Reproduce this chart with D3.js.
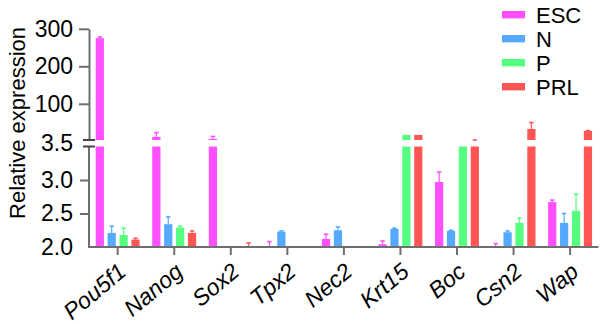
<!DOCTYPE html>
<html>
<head>
<meta charset="utf-8">
<script src="https://cdn.jsdelivr.net/npm/d3@7"></script>
<style>
  html, body { margin: 0; padding: 0; background: #fff; }
  svg { display: block; }
  text { font-family: "Liberation Sans", Arial, Helvetica, sans-serif; fill: #000; }
</style>
</head>
<body>
<svg id="chart" width="600" height="324"></svg>
<script>
// Genes on the x axis and the four sample groups
const categories = ["Pou5f1", "Nanog", "Sox2", "Tpx2", "Nec2", "Krt15", "Boc", "Csn2", "Wap"];
const seriesNames = ["ESC", "N", "P", "PRL"];

// Mean relative expression per gene (0 = not detected) and upper error (SD)
const escValues  = [275, 12, 6.5, 2.01, 2.12, 2.04, 2.97, 2.01, 2.67];
const escErrors  = [3, 11, 6.5, 0.07, 0.07, 0.05, 0.15, 0.04, 0.03];
const nValues    = [2.21, 2.34, 0, 2.23, 2.25, 2.27, 2.24, 2.22, 2.36];
const nErrors    = [0.10, 0.11, 0, 0.01, 0.05, 0.01, 0.01, 0.02, 0.14];
const pValues    = [2.18, 2.29, 0, 0, 0, 17, 3.5, 2.36, 2.54];
const pErrors    = [0.10, 0.02, 0, 0, 0, 0, 0, 0.07, 0.25];
const prlValues  = [2.11, 2.21, 2.01, 0, 0, 17, 3.55, 33, 27.5];
const prlErrors  = [0.02, 0.03, 0.05, 0, 0, 0, 0.1, 17, 1];

// Axis tick values for the two segments of the broken y axis
const lowerTicks = [2.0, 2.5, 3.0];
const breakValue = 3.5;
const upperTicks = [100, 200, 300];

const colors = ["#ff4fff", "#55aaff", "#55ff80", "#ff5555"];

const valueSets = [escValues, nValues, pValues, prlValues];
const errorSets = [escErrors, nErrors, pErrors, prlErrors];

const svg = d3.select("#chart");

// Scales: banded genes, banded groups inside each gene, two linear y segments
const x0 = d3.scaleBand().domain(categories).range([89.4, 598.4]).padding(0);
const x1 = d3.scaleBand().domain(seriesNames).range([6.3, 50.2]).paddingInner(0.31).paddingOuter(0);
const yLow = d3.scaleLinear().domain([2.0, breakValue]).range([247, 146.5]);
const yHigh = d3.scaleLinear().domain([breakValue, 300]).range([140, 28.8]);

const rows = [];
categories.forEach((c, i) => {
  seriesNames.forEach((s, k) => {
    rows.push({ cat: c, series: s, k, v: valueSets[k][i], e: errorSets[k][i] });
  });
});
const detected = rows.filter(d => d.v > 0);

// Bars: lower segment piece plus, when the value passes the break, an upper piece
const bars = svg.append("g");
bars.selectAll("rect.low")
  .data(detected.filter(d => d.v > 2.0))
  .join("rect")
  .attr("x", d => x0(d.cat) + x1(d.series))
  .attr("width", x1.bandwidth())
  .attr("y", d => yLow(Math.min(d.v, breakValue)))
  .attr("height", d => yLow(2.0) - yLow(Math.min(d.v, breakValue)))
  .attr("fill", d => colors[d.k]);

bars.selectAll("rect.high")
  .data(detected.filter(d => d.v > breakValue))
  .join("rect")
  .attr("x", d => x0(d.cat) + x1(d.series))
  .attr("width", x1.bandwidth())
  .attr("y", d => yHigh(d.v))
  .attr("height", d => yHigh(breakValue) - yHigh(d.v))
  .attr("fill", d => colors[d.k]);

// Upward error bars, split across the break when needed
function segY(v) {
  return v > breakValue ? yHigh(v) : yLow(Math.max(v, 2.0));
}
const errs = svg.append("g");
detected.filter(d => d.e > 0).forEach(d => {
  const cx = x0(d.cat) + x1(d.series) + x1.bandwidth() / 2;
  const top = d.v + d.e;
  const col = colors[d.k];
  const segs = [];
  if (d.v < breakValue && top > breakValue) {
    segs.push([yLow(Math.max(d.v, 2.0)), yLow(breakValue)]);
    segs.push([yHigh(breakValue), yHigh(top)]);
  } else {
    segs.push([segY(d.v), segY(top)]);
  }
  segs.forEach(([a, b]) => {
    errs.append("line").attr("x1", cx).attr("x2", cx).attr("y1", a).attr("y2", b)
      .attr("stroke", col).attr("stroke-width", 1.2);
  });
  const ty = segY(top);
  errs.append("line").attr("x1", cx - 2.2).attr("x2", cx + 2.2).attr("y1", ty).attr("y2", ty)
    .attr("stroke", col).attr("stroke-width", 1.6);
});

// Y axis, lower segment
const axisColor = "#6e6e6e";
const tickFont = 23;
const gLow = svg.append("g").attr("transform", "translate(89,0)")
  .call(d3.axisLeft(yLow).tickValues(lowerTicks).tickFormat(d3.format(".1f")).tickSize(9).tickSizeOuter(0).tickPadding(7));
// Y axis, upper segment
const gHigh = svg.append("g").attr("transform", "translate(89,0)")
  .call(d3.axisLeft(yHigh).tickValues(upperTicks).tickSize(10).tickSizeOuter(0).tickPadding(6));

[gLow, gHigh].forEach(g => {
  g.select(".domain").attr("stroke", axisColor).attr("stroke-width", 2);
  g.selectAll(".tick line").attr("stroke", axisColor).attr("stroke-width", 2);
  g.selectAll(".tick text").attr("font-size", tickFont).attr("fill", "#000")
    .attr("font-family", "'Liberation Sans', Arial, sans-serif");
});
gLow.selectAll(".tick").filter(d => d === 2.0).select("line").remove();
gLow.select(".domain").attr("d", `M0,${yLow(2.0) + 1}V${yLow(breakValue)}`);

// Break marks and the break label
[yHigh(breakValue), yLow(breakValue)].forEach(yy => {
  svg.append("line").attr("x1", 83).attr("x2", 95).attr("y1", yy).attr("y2", yy)
    .attr("stroke", "#444").attr("stroke-width", 2);
});
svg.append("text")
  .attr("x", 73).attr("y", (yHigh(breakValue) + yLow(breakValue)) / 2)
  .attr("text-anchor", "end").attr("dy", "0.32em").attr("font-size", tickFont)
  .text(d3.format(".1f")(breakValue));

// X axis
const gx = svg.append("g").attr("transform", `translate(0,${yLow(2.0)})`)
  .call(d3.axisBottom(x0).tickSize(8).tickSizeOuter(0).tickPadding(0));
gx.select(".domain").attr("stroke", axisColor).attr("stroke-width", 2)
  .attr("d", `M${x0.range()[0] - 1},0H${x0.range()[1]}`);
gx.selectAll(".tick line").attr("stroke", axisColor).attr("stroke-width", 2);
gx.selectAll(".tick text")
  .attr("font-size", tickFont).attr("font-style", "italic").attr("fill", "#000")
  .attr("font-family", "'Liberation Sans', Arial, sans-serif")
  .attr("text-anchor", "end")
  .attr("dy", null).attr("y", 0)
  .attr("transform", "translate(10,27) rotate(-40)");

// Y axis title
svg.append("text")
  .attr("transform", `translate(25,123) rotate(-90)`)
  .attr("text-anchor", "middle").attr("font-size", 22)
  .text("Relative expression");

// Legend
const legend = svg.append("g");
seriesNames.forEach((s, k) => {
  const cy = 14.7 + k * 24;
  legend.append("rect").attr("x", 502).attr("y", cy - 3.7).attr("width", 23).attr("height", 7.4)
    .attr("fill", colors[k]);
  legend.append("text").attr("x", 536).attr("y", cy).attr("dy", "0.36em")
    .attr("font-size", 22).text(s);
});
</script>
</body>
</html>
